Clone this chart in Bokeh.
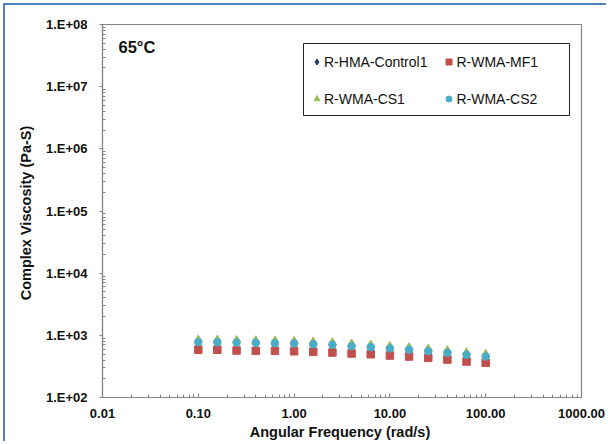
from bokeh.plotting import figure
from bokeh.models import FixedTicker, CustomJSTickFormatter, Legend, LegendItem, Label, BoxAnnotation
from bokeh.embed import file_html
from bokeh.resources import INLINE

# ---- data ----
freq = [0.1, 0.158, 0.251, 0.398, 0.631, 1.0, 1.585, 2.512, 3.981, 6.31,
        10.0, 15.85, 25.12, 39.81, 63.1, 100.0]
control1 = [780, 778, 770, 760, 750, 740, 722, 705, 672, 646, 616, 588, 558, 526, 490, 460]
mf1 = [585, 585, 570, 563, 563, 555, 543, 529, 510, 497, 473, 456, 434, 408, 379, 361]
cs1 = [850, 850, 840, 830, 820, 810, 790, 770, 735, 705, 672, 642, 608, 574, 533, 500]
cs2 = [774, 774, 766, 757, 746, 738, 719, 703, 668, 644, 613, 585, 555, 523, 486, 456]

series_names = ["R-HMA-Control1", "R-WMA-MF1", "R-WMA-CS1", "R-WMA-CS2"]

x_tick_values = [0.01, 0.1, 1, 10, 100, 1000]
x_tick_labels = ["0.01", "0.10", "1.00", "10.00", "100.00", "1000.00"]
y_tick_values = [1e2, 1e3, 1e4, 1e5, 1e6, 1e7, 1e8]
y_tick_labels = ["1.E+02", "1.E+03", "1.E+04", "1.E+05", "1.E+06", "1.E+07", "1.E+08"]

FONT = "Liberation Sans"
GRAY = "#868686"
W, H = 603, 438
ML, MR, MT, MB = 97, 27, 19, 46

p = figure(width=W, height=H,
           x_axis_type="log", y_axis_type="log",
           x_range=(0.01, 1000), y_range=(1e2, 1e8),
           output_backend="svg", toolbar_location=None,
           min_border_left=ML, min_border_right=MR,
           min_border_top=MT, min_border_bottom=MB,
           background_fill_color="white", border_fill_color="white")
# blue chart-area edge, visible on the left and top only
p.styles = {"margin-left": "5px", "margin-top": "5px",
            "box-shadow": "-2px -2px 0px 0px #4F81BD"}

p.xgrid.visible = False
p.ygrid.visible = False
p.outline_line_color = GRAY
p.outline_line_width = 1.2

def minor_positions(vals):
    out = []
    for v in vals[:-1]:
        for m in range(2, 10):
            out.append(v * m)
    return out

p.xaxis.ticker = FixedTicker(ticks=x_tick_values, minor_ticks=minor_positions(x_tick_values))
p.yaxis.ticker = FixedTicker(ticks=y_tick_values, minor_ticks=minor_positions(y_tick_values))
p.xaxis.formatter = CustomJSTickFormatter(
    args=dict(labels=x_tick_labels),
    code="return labels[Math.round(Math.log10(tick)) + 2];")
p.yaxis.formatter = CustomJSTickFormatter(
    args=dict(labels=y_tick_labels),
    code="return labels[Math.round(Math.log10(tick)) - 2];")

for ax in (p.xaxis[0], p.yaxis[0]):
    ax.axis_line_color = GRAY
    ax.axis_line_width = 1.2
    ax.major_tick_line_color = GRAY
    ax.minor_tick_line_color = GRAY
    ax.minor_tick_in = 3
    ax.minor_tick_out = 0
    ax.major_label_text_font = FONT
    ax.major_label_text_font_size = "13px"
    ax.major_label_text_font_style = "bold"
    ax.major_label_text_color = "#111111"
    ax.axis_label_text_font = FONT
    ax.axis_label_text_font_size = "14.5px"
    ax.axis_label_text_font_style = "bold"
    ax.axis_label_text_color = "#111111"

p.xaxis.major_tick_in = 4
p.xaxis.major_tick_out = 0
p.yaxis.major_tick_in = 0
p.yaxis.major_tick_out = 3

p.xaxis.axis_label = "Angular Frequency  (rad/s)"
p.yaxis.axis_label = "Complex Viscosity  (Pa-S)"
p.xaxis.major_label_standoff = 11
p.xaxis.axis_label_standoff = 3
p.yaxis.major_label_standoff = 12
p.yaxis.axis_label_standoff = 9

r1 = p.scatter(freq, control1, marker="diamond", size=9, fill_color="#1F3864", line_color="#1F3864")
r2 = p.scatter(freq, mf1, marker="square", size=7.5, fill_color="#C0504D", line_color="#C0504D")
r3 = p.scatter(freq, cs1, marker="triangle", size=8, fill_color="#9BBB59", line_color="#9BBB59")
r4 = p.scatter(freq, cs2, marker="circle", size=7.5, fill_color="#4BACC6", line_color="#4BACC6")

# legend frame (frame-relative screen units)
p.add_layout(BoxAnnotation(left=201, right=467, bottom=282, top=354,
                           left_units="screen", right_units="screen",
                           top_units="screen", bottom_units="screen",
                           fill_color="white", fill_alpha=1,
                           line_color="#222222", line_width=1, line_alpha=1))

legend = Legend(
    items=[LegendItem(label=series_names[0], renderers=[r1]),
           LegendItem(label=series_names[1], renderers=[r2]),
           LegendItem(label=series_names[2], renderers=[r3]),
           LegendItem(label=series_names[3], renderers=[r4])],
    orientation="horizontal", ncols=2,
    location=(201, 281),
    label_text_font=FONT, label_text_font_size="14px", label_text_color="#111111",
    glyph_width=15, glyph_height=15, label_standoff=0,
    label_width=102, label_height=23, spacing=14, padding=6, margin=0,
    border_line_alpha=0, background_fill_alpha=0,
)
p.add_layout(legend, "center")

p.add_layout(Label(x=16, y=351, x_units="screen", y_units="screen", text="65°C",
                   text_baseline="middle", text_font=FONT, text_font_size="16.5px",
                   text_font_style="bold", text_color="#111111"))

open("out.html", "w").write(file_html(p, INLINE))
